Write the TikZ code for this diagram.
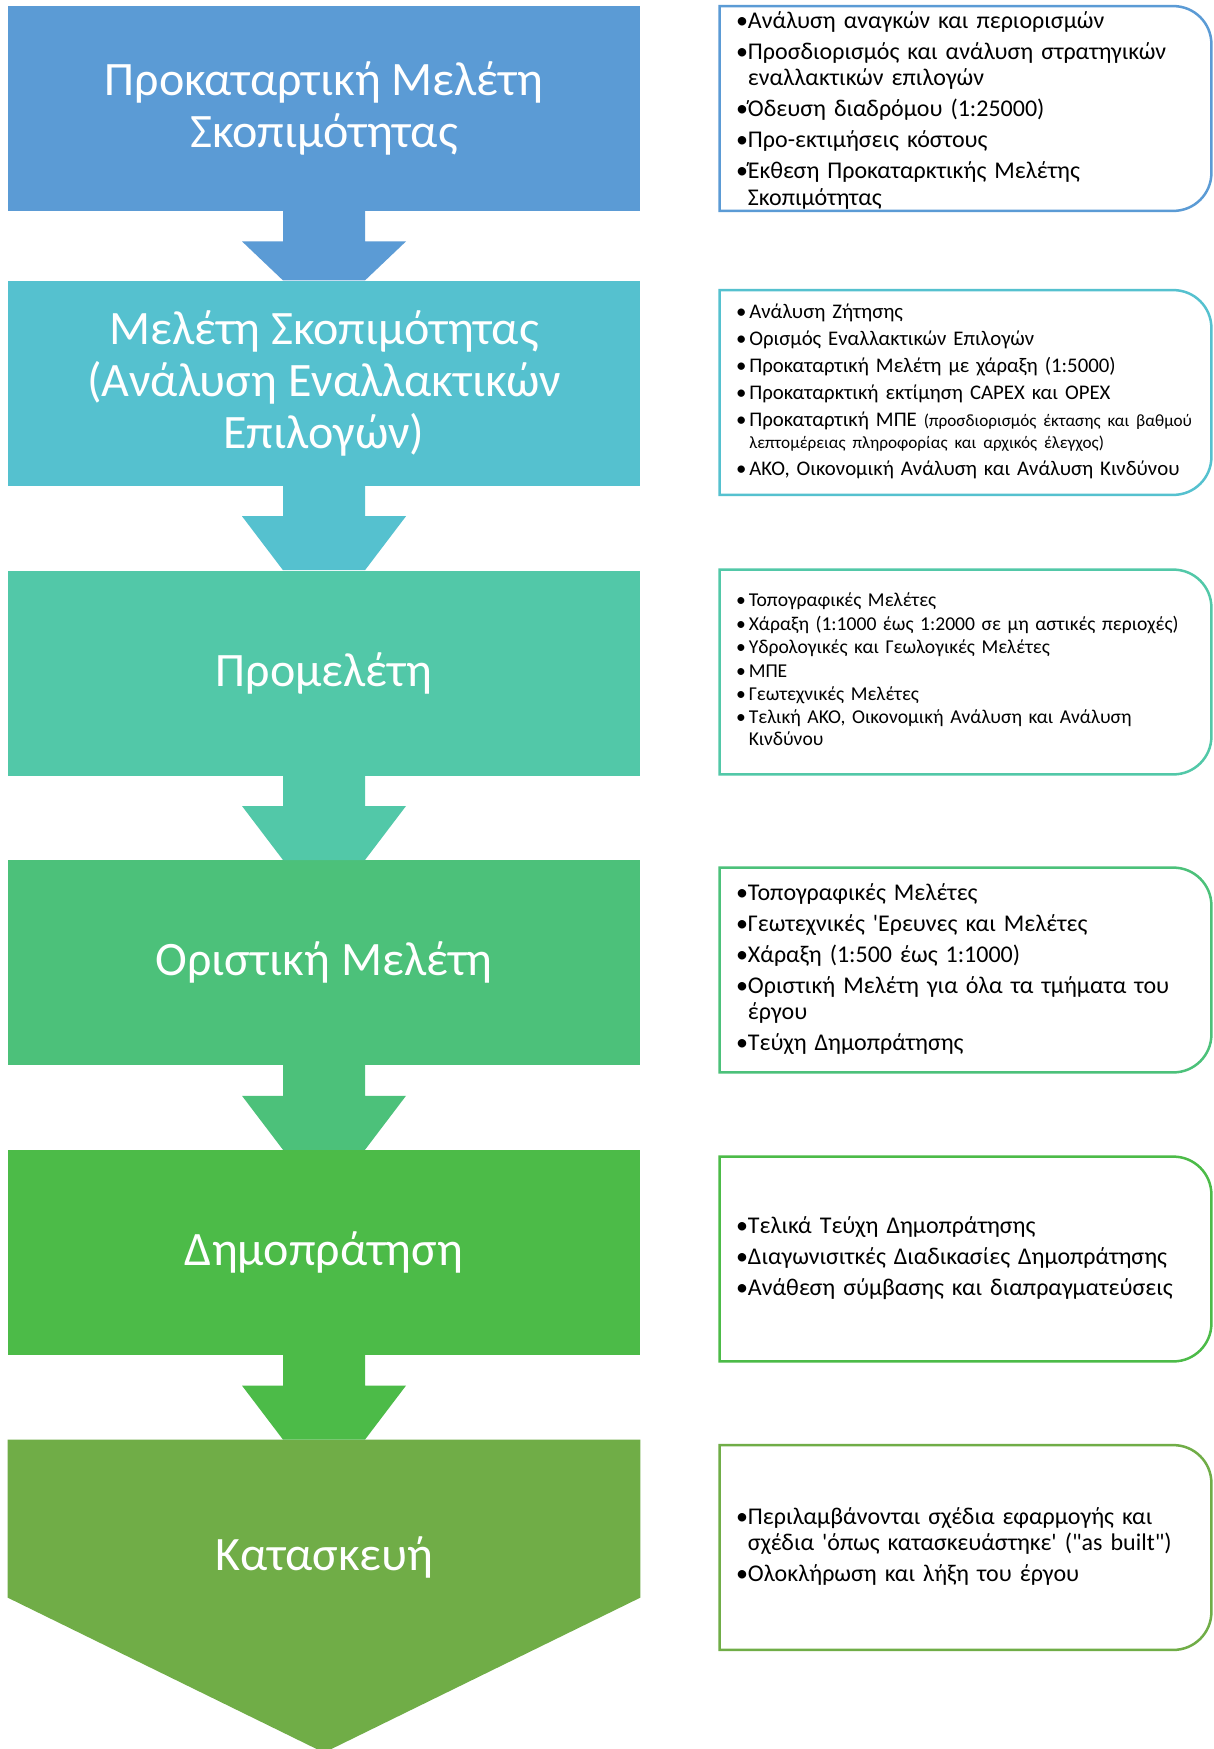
\documentclass[tikz,border=0pt]{standalone}
\usepackage{fontspec}
\setmainfont{Carlito}
\usetikzlibrary{positioning,calc,backgrounds}

\definecolor{stageA}{HTML}{5B9BD5}
\definecolor{stageB}{HTML}{55C1CF}
\definecolor{stageC}{HTML}{52C8A8}
\definecolor{stageD}{HTML}{4CC17A}
\definecolor{stageE}{HTML}{4CBB48}
\definecolor{stageF}{HTML}{70AD47}

\begin{document}
\begin{tikzpicture}[
    x=0.5pt, y=-0.5pt,
    node distance=42pt,
    stage/.style={rectangle, fill=#1, minimum width=316pt, minimum height=102.5pt, inner sep=0pt, text=white, align=center, font=\fontsize{24}{26}\selectfont},
    info/.style={rectangle, minimum height=102pt, text width=229.5pt, inner xsep=8pt, inner ysep=0pt, font=\fontsize{12}{13.2}\selectfont},
    frame/.style={draw=#1, line width=1.25pt}
]
\useasboundingbox (0,0) rectangle (1214,1749);

% stages on the left
\node[stage=stageA] (s1) at (324,108.5) {Προκαταρτική Μελέτη\\Σκοπιμότητας};
\node[stage=stageB, below=34.5pt of s1] (s2) {Μελέτη Σκοπιμότητας\\(Ανάλυση Εναλλακτικών\\Επιλογών)};
\node[stage=stageC, below=of s2] (s3) {Προμελέτη};
\node[stage=stageD, below=of s3] (s4) {Οριστική Μελέτη};
\node[stage=stageE, below=of s4] (s5) {Δημοπράτηση};
\node[stage=none, minimum height=117pt, below=of s5] (s6) {Κατασκευή};

\begin{scope}[on background layer]
\fill[white] (0,0) rectangle (1214,1749);
\fill[stageF] (s6.north west) -- (s6.north east) -- ($(s6.north east)+(0,158)$) -- ($(s6.north)+(0,313)$) -- ($(s6.north west)+(0,158)$) -- cycle;
\end{scope}

% arrows between stages
\foreach \a/\b/\c in {s1/s2/stageA, s2/s3/stageB, s3/s4/stageC, s4/s5/stageD, s5/s6/stageE}
  \fill[\c] ($(\a.south)+(-41,-1)$) -- ($(\a.south)+(-41,30)$) -- ($(\a.south)+(-82,30)$) -- ($(\b.north)+(-41,0)$) -- ($(\b.north)+(41,0)$) -- ($(\a.south)+(82,30)$) -- ($(\a.south)+(41,30)$) -- ($(\a.south)+(41,-1)$) -- cycle;

% details on the right
\node[info] (i1) at (965.5,108.5) {\raisebox{-1.5pt}[\height][\depth]{\begin{tabular}{@{}l@{}l@{}}
\textbullet & Ανάλυση αναγκών και περιορισμών\\[2.3pt]
\textbullet & Προσδιορισμός και ανάλυση στρατηγικών\\
 & εναλλακτικών επιλογών\\[2.3pt]
\textbullet & Όδευση διαδρόμου (1:25000)\\[2.3pt]
\textbullet & Προ-εκτιμήσεις κόστους\\[2.3pt]
\textbullet & Έκθεση Προκαταρκτικής Μελέτης\\
 & Σκοπιμότητας
\end{tabular}}};

\node[info, font=\fontsize{10.4}{11.2}\selectfont] (i2) at (965.5,392.5) {\begin{tabular}{@{}l@{\hspace{1.5pt}}l@{}}
\textbullet & Ανάλυση Ζήτησης\\[2.3pt]
\textbullet & Ορισμός Εναλλακτικών Επιλογών\\[2.3pt]
\textbullet & Προκαταρτική Μελέτη με χάραξη (1:5000)\\[2.3pt]
\textbullet & Προκαταρκτική εκτίμηση CAPEX και OPEX\\[2.3pt]
\textbullet & Προκαταρτική ΜΠΕ {\fontsize{8.6}{11.2}\selectfont(προσδιορισμός έκτασης και βαθμού}\\
 & {\fontsize{8.6}{11.2}\selectfont λεπτομέρειας πληροφορίας και αρχικός έλεγχος)}\\[2.3pt]
\textbullet & ΑΚΟ, Οικονομική Ανάλυση και Ανάλυση Κινδύνου
\end{tabular}};

\node[info, font=\fontsize{9.8}{11}\selectfont] (i3) at (965.5,672) {\begin{tabular}{@{}l@{\hspace{1.5pt}}l@{}}
\textbullet & Τοπογραφικές Μελέτες\\[0.7pt]
\textbullet & Χάραξη (1:1000 έως 1:2000 σε μη αστικές περιοχές)\\[0.7pt]
\textbullet & Υδρολογικές και Γεωλογικές Μελέτες\\[0.7pt]
\textbullet & ΜΠΕ\\[0.7pt]
\textbullet & Γεωτεχνικές Μελέτες\\[0.7pt]
\textbullet & Τελική ΑΚΟ, Οικονομική Ανάλυση και Ανάλυση\\
 & Κινδύνου
\end{tabular}};

\node[info] (i4) at (965.5,970) {\begin{tabular}{@{}l@{}l@{}}
\textbullet & Τοπογραφικές Μελέτες\\[2.3pt]
\textbullet & Γεωτεχνικές \textquotesingle Ερευνες και Μελέτες\\[2.3pt]
\textbullet & Χάραξη (1:500 έως 1:1000)\\[2.3pt]
\textbullet & Οριστική Μελέτη για όλα τα τμήματα του\\
 & έργου\\[2.3pt]
\textbullet & Τεύχη Δημοπράτησης
\end{tabular}};

\node[info] (i5) at (965.5,1259) {\begin{tabular}{@{}l@{}l@{}}
\textbullet & Τελικά Τεύχη Δημοπράτησης\\[2.3pt]
\textbullet & Διαγωνισιτκές Διαδικασίες Δημοπράτησης\\[2.3pt]
\textbullet & Ανάθεση σύμβασης και διαπραγματεύσεις
\end{tabular}};

\node[info] (i6) at (965.5,1547.5) {\begin{tabular}{@{}l@{}l@{}}
\textbullet & Περιλαμβάνονται σχέδια εφαρμογής και\\
 & σχέδια \textquotesingle όπως κατασκευάστηκε\textquotesingle\ (\textquotedbl as built\textquotedbl)\\[2.3pt]
\textbullet & Ολοκλήρωση και λήξη του έργου
\end{tabular}};

\foreach \n/\c in {i1/stageA, i2/stageB, i3/stageC, i4/stageD, i5/stageE, i6/stageF}
  \draw[frame=\c] (\n.north west) -- ($(\n.north east)+(-38,0)$) arc[start angle=-90, end angle=0, radius=38] -- ($(\n.south east)+(0,-38)$) arc[start angle=0, end angle=90, radius=38] -- (\n.south west) -- cycle;
\end{tikzpicture}
\end{document}
